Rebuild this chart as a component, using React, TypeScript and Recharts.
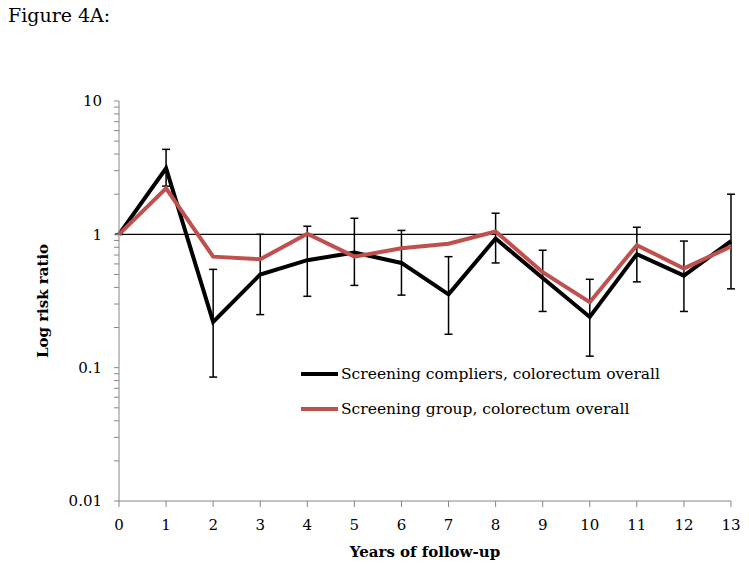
import React from 'react';
import { LineChart, Line, XAxis, YAxis, ErrorBar, ReferenceLine, Label } from 'recharts';

const years = [0, 1, 2, 3, 4, 5, 6, 7, 8, 9, 10, 11, 12, 13];
const compliers = [1, 3.13, 0.22, 0.5, 0.64, 0.73, 0.61, 0.355, 0.93, 0.47, 0.24, 0.71, 0.49, 0.89];
const compliersLow = [1, 2.3, 0.085, 0.25, 0.343, 0.414, 0.35, 0.178, 0.61, 0.264, 0.122, 0.44, 0.264, 0.39];
const compliersHigh = [1, 4.34, 0.546, 1.0, 1.15, 1.32, 1.07, 0.68, 1.44, 0.76, 0.46, 1.13, 0.89, 2.0];
const group = [1, 2.21, 0.68, 0.65, 1.01, 0.68, 0.785, 0.85, 1.05, 0.52, 0.31, 0.83, 0.555, 0.81];

const majorTicks = [0.01, 0.1, 1, 10];
const minorTicks = [0.02, 0.03, 0.04, 0.05, 0.06, 0.07, 0.08, 0.09, 0.2, 0.3, 0.4, 0.5, 0.6, 0.7, 0.8, 0.9, 2, 3, 4, 5, 6, 7, 8, 9];
const yTicks = [...majorTicks, ...minorTicks].sort((a, b) => a - b);
const majorLabels = ['0.01', '0.1', '1', '10'];

const seriesNames = ['Screening compliers, colorectum overall', 'Screening group, colorectum overall'];
const seriesColors = ['#000000', '#C0504D'];

const data = years.map((y, i) => ({
  year: y,
  compliers: compliers[i],
  err: [compliers[i] - compliersLow[i], compliersHigh[i] - compliers[i]],
  group: group[i],
}));

const FONT = '"DejaVu Serif", serif';
const AXIS = '#868686';

const YTick = (props: any) => {
  const { x, y, payload } = props;
  const idx = majorTicks.findIndex((m) => Math.abs(m - payload.value) < 1e-9);
  if (idx < 0) return null;
  return (
    <text x={x} y={y} dy="0.36em" textAnchor="end" fontSize={15} fontFamily={FONT} fill="#000">
      {majorLabels[idx]}
    </text>
  );
};

export default function App() {
  return (
    <div style={{ position: 'absolute', left: 0, top: 0, width: 749, height: 571, background: '#fff' }}>
      <div style={{ position: 'absolute', left: 8, top: 4, fontFamily: FONT, fontSize: 19, color: '#000' }}>Figure 4A:</div>
      <LineChart width={749} height={571} data={data} margin={{ top: 101, left: 59, right: 18, bottom: 40 }}>
        <XAxis
          dataKey="year"
          type="number"
          domain={[0, 13]}
          ticks={years}
          interval={0}
          height={30}
          stroke={AXIS}
          tickSize={6}
          tickMargin={12}
          tick={{ fill: '#000', fontSize: 15, fontFamily: FONT }}
        >
          <Label value="Years of follow-up" position="insideBottom" offset={-26} style={{ fontFamily: FONT, fontSize: 15, fontWeight: 'bold', fill: '#000' }} />
        </XAxis>
        <YAxis
          scale="log"
          domain={[0.01, 10]}
          ticks={yTicks}
          interval={0}
          width={60}
          stroke={AXIS}
          tickSize={5}
          tickMargin={12}
          tick={<YTick />}
          allowDataOverflow
        >
          <Label value="Log risk ratio" angle={-90} position="insideLeft" offset={-16} style={{ fontFamily: FONT, fontSize: 15, fontWeight: 'bold', fill: '#000', textAnchor: 'middle' }} />
        </YAxis>
        <ReferenceLine y={1} stroke="#000" strokeWidth={1.2} />
        <Line type="linear" dataKey="compliers" stroke="#000" strokeWidth={4} dot={false} isAnimationActive={false}>
          <ErrorBar dataKey="err" width={4} stroke="#000" strokeWidth={1.5} direction="y" />
        </Line>
        <Line type="linear" dataKey="group" stroke="#C0504D" strokeWidth={4} dot={false} isAnimationActive={false} />
      </LineChart>
      <div style={{ position: 'absolute', left: 301, top: 356, fontFamily: FONT, fontSize: 15.5, color: '#000' }}>
        {seriesNames.map((n, i) => (
          <div key={n} style={{ display: 'flex', alignItems: 'center', height: 35 }}>
            <div style={{ width: 37, height: 4, background: seriesColors[i], marginRight: 3 }} />
            <span>{n}</span>
          </div>
        ))}
      </div>
    </div>
  );
}
